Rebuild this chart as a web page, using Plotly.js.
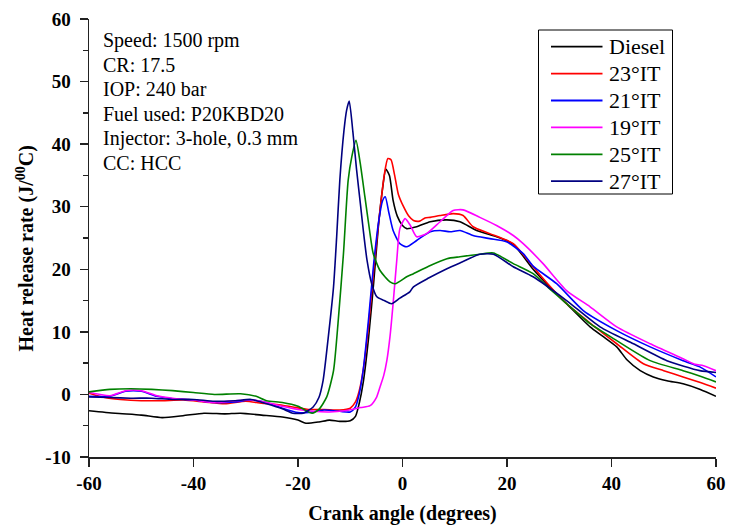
<!DOCTYPE html>
<html>
<head>
<meta charset="utf-8">
<script src="https://cdn.plot.ly/plotly-3.0.1.min.js"></script>
<style>html,body{margin:0;padding:0;background:#fff;}#chart{width:730px;height:528px;}</style>
</head>
<body>
<div id="chart"></div>
<script>
// Series names
const seriesNames = ["Diesel", "23°IT", "21°IT", "19°IT", "25°IT", "27°IT"];

// Diesel
const dieselX = [-60,-55,-50,-46,-42,-38,-34,-31,-27,-23,-20,-18.5,-16,-14,-12,-10,-9,-8.3,-7.5,-6.5,-5.5,-4.6,-3.8,-3.2,-2.5,-1.8,-1,0,0.8,2.7,5.3,8.5,11,14.2,18,21.2,25,28,31.4,35.9,38.5,41,43,45.5,48,50.6,53.7,57,60];
const dieselY = [-2.6,-3.0,-3.3,-3.7,-3.4,-3.0,-3.1,-3.0,-3.3,-3.6,-4.1,-4.6,-4.4,-4.1,-4.3,-4.2,-3.5,-1.5,2,9,18,27,33,36,35,31,28.5,27,26.5,26.8,27.6,27.9,27.6,26.2,25.2,24,20,17.3,14.5,10.8,9.2,7.6,5.5,3.8,2.8,2.2,1.7,0.8,-0.3];

// 23°IT
const it23X = [-60,-57,-54,-50,-46,-42,-38,-34,-30,-27,-24,-21,-18,-15,-12,-10,-9,-8.3,-7.5,-6.5,-5.5,-4.5,-3.5,-2.8,-2.2,-1.5,-0.8,0.2,1.2,2.1,3.3,4.3,5.3,7.2,9.7,11.6,13.5,16.7,21.2,25,28,31.4,35.9,41,46.1,50,53.7,57,60];
const it23Y = [0.2,-0.5,-0.8,-1.0,-1.0,-0.9,-1.2,-1.5,-1.1,-1.4,-1.6,-2.0,-2.4,-2.4,-2.5,-2.2,-1.2,0.5,4,11,20,28,35,37.7,37.5,35,32,30,28.5,27.8,27.7,28.2,28.3,28.6,28.9,28.6,26.8,25.7,24.1,20.4,17.5,14.5,11.4,8.1,4.9,3.8,2.8,1.9,1.0];

// 21°IT
const it21X = [-60,-56,-53,-50,-47,-44,-40,-36,-32,-29,-26,-23,-20,-18,-15,-12,-10,-9,-8.3,-7.5,-6.5,-5.5,-4.5,-3.8,-3.3,-2.6,-1.8,-0.5,0.8,2.7,5.3,7.2,9.1,11,13.5,16.7,19.9,23.1,25,29.5,34.6,41,47.4,53.7,56.9,60];
const it21Y = [-0.3,-0.3,0.5,0.5,-0.3,-0.7,-0.9,-1.3,-1.2,-0.9,-1.3,-2.2,-2.9,-2.9,-2.5,-2.7,-2.8,-2,0,4,12,21,28,31,31.6,29,26.2,24.1,23.6,24.6,26,26.2,26,26.2,25.4,24.9,24.4,22.5,20.5,17.7,13.4,10.2,7.6,5.4,4.4,2.8];

// 19°IT
const it19X = [-60,-56,-53,-50,-47,-44,-40,-36,-32,-29,-26,-23,-20,-17,-14,-11,-8,-6.2,-5,-4.3,-3.6,-3.0,-2.4,-1.8,-1.1,-0.5,0.5,1.5,2.7,4.6,7.2,9.7,11.6,14.8,18,21.2,23.1,26.9,31.4,35.9,41,47.4,53.7,56,57.6,60];
const it19Y = [0.3,-0.2,0.6,0.6,-0.2,-0.6,-0.9,-1.3,-1.0,-0.9,-1.3,-1.9,-2.4,-2.7,-2.8,-2.6,-2.1,-1.8,-0.5,1.2,3,5.4,9.2,14.5,21.4,26.5,28.1,27,25.2,25.7,27.6,29.4,29.5,28.3,27,25.4,24.1,20.9,16.6,14,10.8,8.1,5.7,4.8,4.6,3.8];

// 25°IT
const it25X = [-60,-56,-52,-48,-44,-40,-36,-31,-28,-26,-23,-20,-17.3,-16,-14.5,-13.2,-12.3,-11.3,-10.4,-9.7,-8.9,-8.1,-7.2,-6.3,-5.6,-4.3,-2.4,-1.4,0.8,2.1,5,8.5,11,14.8,17.4,21.2,25,28,31.4,35.9,41,47.4,53.7,57,60];
const it25Y = [0.4,0.8,0.9,0.8,0.6,0.3,0.0,0.1,-0.3,-1.0,-1.3,-1.9,-3.0,-2.4,-0.4,3.8,11.8,22.5,34.2,38.0,40.6,37,31.6,26.2,22.5,19.8,18.0,17.7,18.8,19.3,20.5,21.7,22.0,22.4,22.6,20.9,19.3,17,14.5,11.3,8.6,5.4,3.8,2.9,2.0];

// 27°IT
const it27X = [-60,-56,-52,-48,-44,-40,-36,-32,-29,-26,-23,-21,-19,-17.1,-16,-15.2,-14.2,-13.2,-12.6,-12.0,-11.2,-10.7,-10.2,-9.5,-8.8,-8.0,-7.5,-6.8,-5.9,-4.9,-3.5,-2.1,-0.5,1.4,2.1,5,8.5,11.5,14.8,17.4,21.2,25,31.4,37.8,44.2,50.6,56.9,60];
const it27Y = [-0.4,-0.5,-0.6,-0.6,-0.8,-0.8,-1.1,-1.0,-0.8,-1.5,-2.3,-3.0,-3.0,-2.0,-0.5,2.2,9.2,17.2,25.2,34.2,42.2,45.4,46.9,42,36,30,26.2,21.5,17.7,15.6,15,14.5,15.4,16.4,17.2,18.6,20.1,21.2,22.4,22.4,20.4,18.8,15,10.8,8.1,5.4,3.8,3.5];

const xTicks = [-60,-40,-20,0,20,40,60];
const yTicks = [-10,0,10,20,30,40,50,60];

const xTitle = 'Crank angle (degrees)';
const yTitle = 'Heat release rate (J/<sup>00</sup>C)';
const infoLines = ["Speed: 1500 rpm","CR: 17.5","IOP: 240 bar","Fuel used: P20KBD20","Injector: 3-hole, 0.3 mm","CC: HCC"];

const colors = ["#000000","#ff0000","#0000ff","#ff00ff","#008000","#000080"];
const xs = [dieselX, it23X, it21X, it19X, it25X, it27X];
const ys = [dieselY, it23Y, it21Y, it19Y, it25Y, it27Y];

const serif = "Liberation Serif, Times New Roman, serif";

const traces = seriesNames.map((n,i)=>({
  type:'scatter', mode:'lines', name:n, x:xs[i], y:ys[i], showlegend:false,
  line:{color:colors[i], width:1.6, shape:'spline', smoothing:0.6}
}));

// plot-area geometry in pixels (for placing legend box and text block)
const W = 730, H = 528, mL = 89, mR = 14, mT = 19, mB = 71;
const pw = W - mL - mR, ph = H - mT - mB;
const px = v => (v - mL) / pw;
const py = v => (H - mB - v) / ph;

const shapes = [];
const annotations = [];

// legend box
shapes.push({type:'rect', xref:'paper', yref:'paper', x0:px(538.5), x1:px(672.5), y0:py(194), y1:py(30),
  line:{color:'#000', width:1}, fillcolor:'rgba(0,0,0,0)'});
seriesNames.forEach((n,i)=>{
  const yc = 46.7 + i*26.9;
  shapes.push({type:'line', xref:'paper', yref:'paper', x0:px(551), x1:px(602.5), y0:py(yc), y1:py(yc),
    line:{color:colors[i], width:1.8}});
  annotations.push({xref:'paper', yref:'paper', x:px(606.5), y:py(yc), xanchor:'left', yanchor:'middle',
    showarrow:false, text:n, font:{family:serif, size:22, color:'#000'}});
});

// info text block
infoLines.forEach((t,i)=>{
  annotations.push({xref:'paper', yref:'paper', x:px(101), y:py(40.5 + i*24.4), xanchor:'left', yanchor:'middle',
    align:'left', showarrow:false, text:t, font:{family:serif, size:20, color:'#000'}});
});

// y-axis title (placed as rotated text so it sits where the reference has it)
annotations.push({xref:'paper', yref:'paper', x:px(24.5), y:py(249), xanchor:'center', yanchor:'middle',
  textangle:-90, showarrow:false, text:yTitle, font:{family:serif, size:20, color:'#000', weight:'bold'}});

const layout = {
  width:W, height:H,
  margin:{l:mL, r:mR, t:mT, b:mB},
  paper_bgcolor:'#ffffff', plot_bgcolor:'#ffffff',
  showlegend:false,
  xaxis:{range:[-60,60], tickvals:xTicks, ticktext:xTicks.map(String), ticks:'outside', ticklen:8, tickwidth:1.5,
    tickcolor:'#222', showline:true, linecolor:'#222', linewidth:1.5, showgrid:false, zeroline:false,
    tickfont:{family:serif, size:19, color:'#000', weight:'bold'}, ticklabelstandoff:1,
    title:{text:xTitle, font:{family:serif, size:20, color:'#000', weight:'bold'}, standoff:12}},
  yaxis:{range:[-10,60], tickvals:yTicks, ticktext:yTicks.map(String), ticks:'outside', ticklen:8, tickwidth:1.5,
    tickcolor:'#222', showline:true, linecolor:'#222', linewidth:1.5, showgrid:false, zeroline:false,
    minor:{tickvals:[-5,5,15,25,35,45,55], ticks:'outside', ticklen:5, tickwidth:1.5, tickcolor:'#222', showgrid:false},
    tickfont:{family:serif, size:19, color:'#000', weight:'bold'}, ticklabelstandoff:5},
  shapes:shapes,
  annotations:annotations
};

Plotly.newPlot('chart', traces, layout, {displayModeBar:false, staticPlot:true});
</script>
</body>
</html>
